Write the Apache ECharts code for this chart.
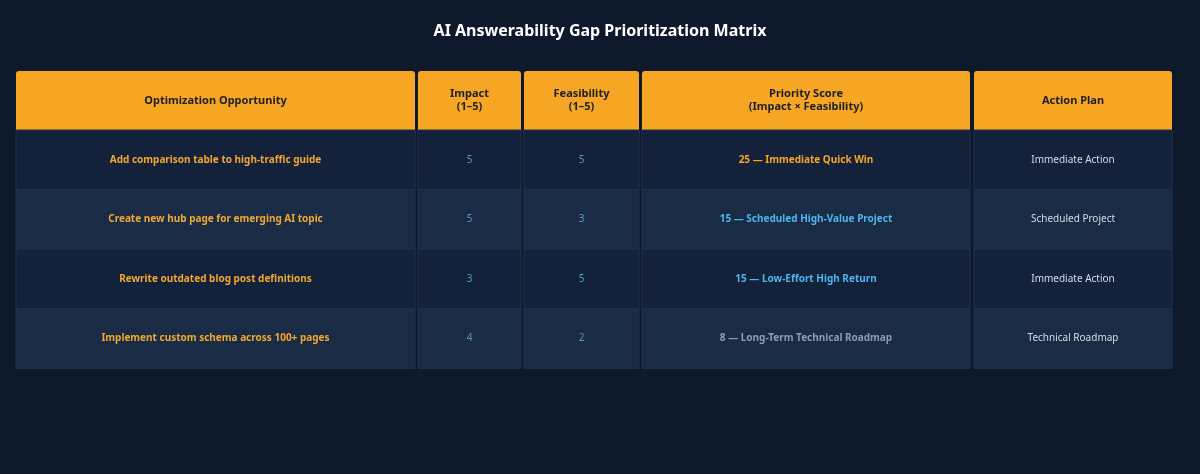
<!DOCTYPE html>
<html>
<head>
<meta charset="utf-8">
<script src="https://cdn.jsdelivr.net/npm/echarts@6/dist/echarts.min.js"></script>
<style>
  html, body { margin: 0; padding: 0; background: #0e1a2c; }
  #chart { width: 1200px; height: 474px; }
</style>
</head>
<body>
<div id="chart"></div>
<script>
const headers = ['Optimization Opportunity', 'Impact\n(1–5)', 'Feasibility\n(1–5)', 'Priority Score\n(Impact × Feasibility)', 'Action Plan'];
const opportunities = [
  'Add comparison table to high-traffic guide',
  'Create new hub page for emerging AI topic',
  'Rewrite outdated blog post definitions',
  'Implement custom schema across 100+ pages'
];
const impact = [5, 5, 3, 4];
const feasibility = [5, 3, 5, 2];
const scoreLabels = ['Immediate Quick Win', 'Scheduled High-Value Project', 'Low-Effort High Return', 'Long-Term Technical Roadmap'];
const actions = ['Immediate Action', 'Scheduled Project', 'Immediate Action', 'Technical Roadmap'];

// column layout
const colX = [16, 418, 524, 642, 974];
const colW = [399, 103, 115, 328, 198];
const headTop = 71, headH = 59, rowH = 59.6;
const scoreColors = ['#f5a623', '#4db6ee', '#4db6ee', '#8d9bb0'];

let elements = [];

headers.forEach((h, c) => {
  elements.push({
    type: 'rect',
    shape: { x: colX[c], y: headTop, width: colW[c], height: headH, r: [3, 3, 0, 0] },
    style: { fill: '#f6a623' }
  });
  elements.push({
    type: 'text',
    x: colX[c] + colW[c] / 2,
    y: headTop + headH / 2,
    style: {
      text: h, fill: '#1b1f28', font: 'bold 11px "Noto Sans"',
      align: 'center', verticalAlign: 'middle', lineHeight: 13
    }
  });
});

opportunities.forEach((opp, r) => {
  const y = headTop + headH + r * rowH;
  const score = impact[r] * feasibility[r];
  const cells = [
    { text: opp, fill: '#f0a830', font: 'bold 10px "Noto Sans"' },
    { text: String(impact[r]), fill: '#4a9cc8', font: '10px "Noto Sans"' },
    { text: String(feasibility[r]), fill: '#4a9cc8', font: '10px "Noto Sans"' },
    { text: score + ' — ' + scoreLabels[r], fill: scoreColors[r], font: 'bold 10px "Noto Sans"' },
    { text: actions[r], fill: '#d4dbe4', font: '10px "Noto Sans"' }
  ];
  cells.forEach((cell, c) => {
    elements.push({
      type: 'rect',
      shape: { x: colX[c], y: y, width: colW[c], height: rowH },
      style: { fill: r % 2 === 0 ? '#13213a' : '#1a2b45', stroke: '#22324c', lineWidth: 1 }
    });
    elements.push({
      type: 'text',
      x: colX[c] + colW[c] / 2,
      y: y + rowH / 2,
      style: { text: cell.text, fill: cell.fill, font: cell.font, align: 'center', verticalAlign: 'middle' }
    });
  });
});

const chart = echarts.init(document.getElementById('chart'));
chart.setOption({
  backgroundColor: '#0e1a2c',
  animation: false,
  title: {
    text: 'AI Answerability Gap Prioritization Matrix',
    left: 'center',
    top: 18,
    textStyle: { color: '#ffffff', fontSize: 16, fontWeight: 'bold', fontFamily: 'Noto Sans' }
  },
  graphic: { elements: elements }
});
</script>
</body>
</html>
